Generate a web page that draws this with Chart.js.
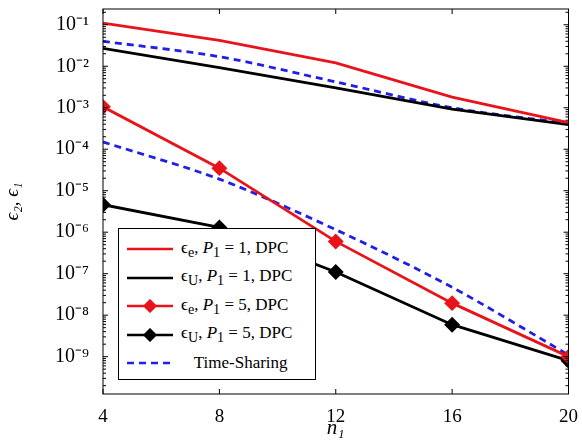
<!DOCTYPE html>
<html><head><meta charset="utf-8">
<script src="https://cdn.jsdelivr.net/npm/chart.js@4"></script>
<style>
body{margin:0;background:#fff;overflow:hidden}
#wrap{position:relative;width:582px;height:441px;overflow:hidden}
#c{position:absolute;left:0;top:-9px}
#legend{position:absolute;left:118px;top:228px;width:198px;height:152px;border:1px solid #000;background:#fff;font:17px "Liberation Serif",serif;box-sizing:border-box;padding:6px 0 0 8px}
#legend div{height:28.5px;display:flex;align-items:center}
#legend svg{margin-right:8px}
</style></head><body>
<div id="wrap"><canvas id="c" width="582" height="450"></canvas>
<div id="legend"></div></div>
<script>
const n1 = [4, 8, 12, 16, 20];
const epsE_P1 = [0.11, 0.042, 0.012, 1.8e-3, 4.4e-4];
const epsU_P1 = [0.027, 9.3e-3, 3e-3, 9.3e-4, 3.9e-4];
const epsE_P5 = [1.05e-3, 3.5e-5, 6e-7, 1.95e-8, 1e-9];
const epsU_P5 = [4.6e-6, 1.3e-6, 1.1e-7, 5.9e-9, 8e-10];
const ts_P1 = [0.04, 0.017, 4.2e-3, 1e-3, 4.2e-4];
const ts_P5 = [1.5e-4, 1.9e-5, 1.15e-6, 4.7e-8, 1.1e-9];
const yTicks = [-9, -8, -7, -6, -5, -4, -3, -2, -1];
const sup = {'-':'⁻','0':'⁰','1':'¹','2':'²','3':'³','4':'⁴','5':'⁵','6':'⁶','7':'⁷','8':'⁸','9':'⁹'};

function pts(ys) { return n1.map((x, i) => ({x: x, y: ys[i]})); }
function ds(label, data, color, marker, dash) {
    return {label: label, data: pts(data), borderColor: color, backgroundColor: color,
        borderWidth: 2.8, pointStyle: marker ? 'rectRot' : false, pointRadius: marker ? 6 : 0,
        borderDash: dash ? [7, 5] : [], tension: dash ? 0.3 : 0};
}

const inTicks = {
    id: 'inTicks',
    afterDraw(chart) {
        const c = chart.ctx, a = chart.chartArea, xs = chart.scales.x, ys = chart.scales.y;
        c.save(); c.strokeStyle = '#000'; c.lineWidth = 1;
        c.strokeRect(a.left, a.top, a.right - a.left, a.bottom - a.top);
        c.beginPath();
        n1.forEach(v => { const p = xs.getPixelForValue(v); c.moveTo(p, a.bottom); c.lineTo(p, a.bottom - 5); c.moveTo(p, a.top); c.lineTo(p, a.top + 5); });
        for (let e = -10; e <= 0; e++) for (let m = 1; m < 10; m++) {
            const v = m * Math.pow(10, e);
            if (v < ys.min || v > ys.max) continue;
            const p = ys.getPixelForValue(v), l = m == 1 ? 5 : 3;
            c.moveTo(a.left, p); c.lineTo(a.left + l, p); c.moveTo(a.right, p); c.lineTo(a.right - l, p);
        }
        c.stroke(); c.restore();
    }
};

new Chart(document.getElementById('c'), {
    type: 'line',
    data: {datasets: [
        ds('epsE1', epsE_P1, '#e8141b', false, false),
        ds('epsU1', epsU_P1, '#000', false, false),
        ds('epsE5', epsE_P5, '#e8141b', true, false),
        ds('epsU5', epsU_P5, '#000', true, false),
        ds('ts1', ts_P1, '#1f1fe6', false, true),
        ds('ts5', ts_P5, '#1f1fe6', false, true)
    ]},
    options: {
        responsive: false, animation: false,
        layout: {padding: {top: 0, right: 11}},
        plugins: {legend: {display: false}, tooltip: {enabled: false}},
        scales: {
            x: {type: 'linear', min: 4, max: 20,
                afterBuildTicks: s => { s.ticks = n1.map(v => ({value: v})); },
                afterFit: s => { s.height = 47; },
                grid: {display: false}, border: {display: false},
                ticks: {color: '#000', font: {family: 'Liberation Serif', size: 19}, padding: 4},
                title: {display: true, text: 'n₁', color: '#000', font: {family: 'Liberation Serif', size: 21, style: 'italic'}, padding: 0}},
            y: {type: 'logarithmic', min: Math.pow(10, -9.9), max: Math.pow(10, -0.62),
                afterBuildTicks: s => { s.ticks = yTicks.map(e => ({value: Math.pow(10, e)})); },
                afterFit: s => { s.width = 103; },
                grid: {display: false}, border: {display: false},
                ticks: {color: '#000', font: {family: 'Liberation Serif', size: 20}, padding: 6,
                    callback: v => '10' + String(Math.round(Math.log10(v))).split('').map(ch => sup[ch]).join('')},
                title: {display: true, text: 'ϵ₂, ϵ₁', color: '#000', font: {family: 'Liberation Serif', size: 19, style: 'italic'}, padding: 2}}
        }
    },
    plugins: [inTicks]
});

const items = [
    ['#e8141b', false, false, 'ϵ<sub>e</sub>, <i>P</i><sub>1</sub> = 1, DPC'],
    ['#000', false, false, 'ϵ<sub>U</sub>, <i>P</i><sub>1</sub> = 1, DPC'],
    ['#e8141b', true, false, 'ϵ<sub>e</sub>, <i>P</i><sub>1</sub> = 5, DPC'],
    ['#000', true, false, 'ϵ<sub>U</sub>, <i>P</i><sub>1</sub> = 5, DPC'],
    ['#1f1fe6', false, true, '&nbsp;&nbsp;&nbsp;Time-Sharing']
];
document.getElementById('legend').innerHTML = items.map(([c, m, d, t]) =>
    '<div><svg width="46" height="14"><line x1="0" y1="7" x2="46" y2="7" stroke="' + c + '" stroke-width="2.5"' +
    (d ? ' stroke-dasharray="7 5"' : '') + '/>' + (m ? '<rect x="18" y="2" width="10" height="10" fill="' + c + '" transform="rotate(45 23 7)"/>' : '') +
    '</svg><span>' + t + '</span></div>').join('');
</script>
</body></html>
